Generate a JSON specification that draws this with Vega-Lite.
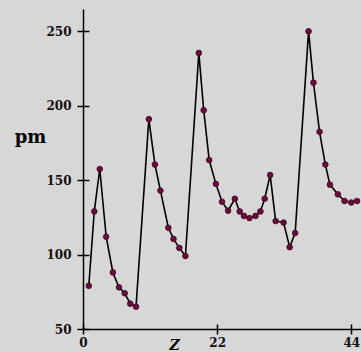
{
  "$schema": "https://vega.github.io/schema/vega-lite/v6.json",
  "width": 278,
  "height": 320,
  "autosize": {"type": "none"},
  "padding": {"left": 83, "top": 9, "right": 0, "bottom": 23},
  "background": "#d7d7d7",
  "config": {"view": {"stroke": null}},
  "data": {"values": [
    {"z": 0.95, "pm": 79}, {"z": 1.85, "pm": 129}, {"z": 2.75, "pm": 157.5}, {"z": 3.8, "pm": 112},
    {"z": 4.9, "pm": 88}, {"z": 5.9, "pm": 78}, {"z": 6.85, "pm": 74}, {"z": 7.75, "pm": 67},
    {"z": 8.7, "pm": 65}, {"z": 10.8, "pm": 191}, {"z": 11.8, "pm": 160.5}, {"z": 12.7, "pm": 143},
    {"z": 14.0, "pm": 118}, {"z": 14.85, "pm": 110.5}, {"z": 15.8, "pm": 104.5}, {"z": 16.8, "pm": 99},
    {"z": 19.0, "pm": 235.5}, {"z": 19.8, "pm": 197}, {"z": 20.7, "pm": 163.5}, {"z": 21.8, "pm": 147.5},
    {"z": 22.8, "pm": 135.5}, {"z": 23.8, "pm": 129.5}, {"z": 24.9, "pm": 137.5}, {"z": 25.7, "pm": 129},
    {"z": 26.4, "pm": 126}, {"z": 27.3, "pm": 124.5}, {"z": 28.3, "pm": 126}, {"z": 29.1, "pm": 129},
    {"z": 29.8, "pm": 137.5}, {"z": 30.7, "pm": 153.5}, {"z": 31.6, "pm": 122.5}, {"z": 32.9, "pm": 121.5},
    {"z": 33.9, "pm": 105}, {"z": 34.8, "pm": 114.5}, {"z": 37.0, "pm": 250}, {"z": 37.8, "pm": 215.5},
    {"z": 38.8, "pm": 182.5}, {"z": 39.75, "pm": 160.5}, {"z": 40.5, "pm": 147}, {"z": 41.8, "pm": 140.5},
    {"z": 42.9, "pm": 136}, {"z": 44.0, "pm": 135}, {"z": 44.95, "pm": 136}
  ]},
  "layer": [
    {
      "mark": {"type": "line", "color": "black", "strokeWidth": 1.6},
      "encoding": {
        "x": {"field": "z", "type": "quantitative",
          "scale": {"domain": [0, 45.6], "nice": false, "zero": false},
          "axis": {"orient": "bottom", "values": [0, 22, 44], "grid": false,
            "domainColor": "black", "domainWidth": 1.5, "tickColor": "black", "tickWidth": 1.5, "tickSize": 5,
            "labelFont": "DejaVu Serif", "labelFontSize": 12, "labelFontWeight": "bold", "labelColor": "#111", "labelPadding": 3, "labelFlush": false,
            "title": "Z", "titleFont": "DejaVu Serif", "titleFontStyle": "italic", "titleFontWeight": "bold", "titleFontSize": 14,
            "titleColor": "black", "titleX": 91, "titleY": 16, "titleAlign": "center", "titleBaseline": "middle", "titleAngle": 0}},
        "y": {"field": "pm", "type": "quantitative",
          "scale": {"domain": [50, 265], "nice": false, "zero": false},
          "axis": {"orient": "left", "values": [50, 100, 150, 200, 250], "grid": false,
            "domainColor": "black", "domainWidth": 1.5, "tickColor": "black", "tickWidth": 1.5, "tickSize": 6,
            "labelFont": "DejaVu Serif", "labelFontSize": 12, "labelFontWeight": "bold", "labelColor": "#111", "labelPadding": 6,
            "title": "pm", "titleFont": "DejaVu Serif", "titleFontWeight": "bold", "titleFontSize": 18, "titleColor": "black",
            "titleAngle": 0, "titleX": -53, "titleY": 133, "titleAlign": "center", "titleBaseline": "alphabetic"}}
      }
    },
    {
      "mark": {"type": "point", "filled": true, "shape": "circle", "size": 32, "color": "#6b0d3a", "opacity": 1,
        "stroke": "#3b0620", "strokeWidth": 0.8},
      "encoding": {
        "x": {"field": "z", "type": "quantitative",
          "axis": {"orient": "bottom", "values": [0, 22, 44], "grid": false, "domain": false, "labels": false,
            "tickColor": "black", "tickWidth": 1.5, "tickSize": 5, "offset": -5, "title": null}},
        "y": {"field": "pm", "type": "quantitative",
          "axis": {"orient": "left", "values": [50, 100, 150, 200, 250], "grid": false, "domain": false, "labels": false,
            "tickColor": "black", "tickWidth": 1.5, "tickSize": 6, "offset": -6, "title": null}}
      }
    }
  ],
  "resolve": {"axis": {"x": "independent", "y": "independent"}}
}
